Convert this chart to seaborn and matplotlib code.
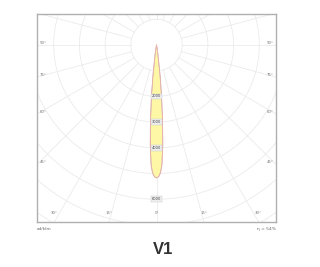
import numpy as np
import pandas as pd
import matplotlib
matplotlib.use("Agg")
import matplotlib.pyplot as plt
import seaborn as sns

# ---- data ----
angles_deg = [0, 0.9, 1.8, 2.6, 3.6, 4.6, 5.7, 6.7, 8.5, 10, 12, 15]
c0_c180 = [5170, 5130, 4980, 4670, 3900, 2930, 1950, 1170, 390, 100, 20, 0]
c90_c270 = [5170, 5120, 4960, 4640, 3870, 2900, 1930, 1150, 380, 95, 18, 0]
ring_values = [1000, 2000, 3000, 4000, 5000, 6000, 7000, 8000, 9000]
ring_labels = [2000, 3000, 4000, 6000]
ray_angles = list(range(-180, 181, 15))
side_labels = [90, 75, 60, 45]
bottom_labels = [-30, -15, 0, 15, 30]
title = "V1"
unit_text = "cd/klm"
eff_text = "η = 54%"

sns.set_style("white")
plt.rcParams['font.family'] = ['DejaVu Sans']

fig = plt.figure(figsize=(3.2, 2.67), dpi=100)
ax = fig.add_axes([0.1156, 0.1685, 0.747, 0.779])
XL, YB, YT = 4650, -6887, 1206
ax.set_xlim(-XL, XL)
ax.set_ylim(YB, YT)

grid_c = "#ebebeb"
t = np.linspace(0, 2 * np.pi, 400)
for r in ring_values:
    ax.plot(r * np.sin(t), r * np.cos(t), color=grid_c, lw=0.6, zorder=1)
for a in ray_angles:
    th = np.radians(a)
    ax.plot([1000 * np.sin(th), 12000 * np.sin(th)],
            [-1000 * np.cos(th), -12000 * np.cos(th)], color=grid_c, lw=0.6, zorder=1)

def to_xy(vals):
    ang = np.radians(np.array(angles_deg, dtype=float))
    v = np.array(vals, dtype=float)
    full_a = np.concatenate([-ang[::-1], ang[1:]])
    full_v = np.concatenate([v[::-1], v[1:]])
    return full_v * np.sin(full_a), -full_v * np.cos(full_a)

x0, y0 = to_xy(c0_c180)
x9, y9 = to_xy(c90_c270)
ax.fill(x0, y0, color="#fdf7a6", zorder=2, lw=0)
df0 = pd.DataFrame({"x": x0, "y": y0})
df9 = pd.DataFrame({"x": x9, "y": y9})
sns.lineplot(data=df9, x="x", y="y", sort=False, estimator=None, ax=ax,
             color="#c4b0dc", lw=0.5, zorder=3)
sns.lineplot(data=df0, x="x", y="y", sort=False, estimator=None, ax=ax,
             color="#eab0a0", lw=0.6, zorder=3)

for v in ring_labels:
    ax.text(0, -v, str(v), fontsize=2.6, color="#444444", ha="center", va="center", zorder=5,
            bbox=dict(boxstyle="square,pad=0.25", fc="#eeeeee", ec="#c8c8c8", lw=0.3))

lab_c = "#777777"
for a in side_labels:
    yv = -XL / np.tan(np.radians(a)) if a != 90 else 0
    yv = yv + 80
    ax.text(-XL + 90, yv, f"{a}°", fontsize=2.8, color=lab_c, ha="left", va="center")
    ax.text(XL - 90, yv, f"{a}°", fontsize=2.8, color=lab_c, ha="right", va="center")
for a in bottom_labels:
    xv = -YB * np.tan(np.radians(a))
    ax.text(xv, YB + 350, f"{abs(a)}°", fontsize=2.8, color=lab_c, ha="center", va="center")

ax.set_xticks([])
ax.set_yticks([])
ax.set_xlabel("")
ax.set_ylabel("")
for s in ax.spines.values():
    s.set_visible(True)
    s.set_color("#b0b0b0")
    s.set_linewidth(1.0)

fig.text(37 / 320, 1 - 229 / 267, unit_text, fontsize=3.2, color="#666666", ha="left", va="center")
fig.text(276 / 320, 1 - 229 / 267, eff_text, fontsize=3.2, color="#666666", ha="right", va="center")
fig.text(163 / 320, 1 - 249 / 267, title, fontsize=12, fontweight="bold", color="#333333",
         ha="center", va="center", family="Liberation Sans")

fig.savefig("out.png", dpi=100)
